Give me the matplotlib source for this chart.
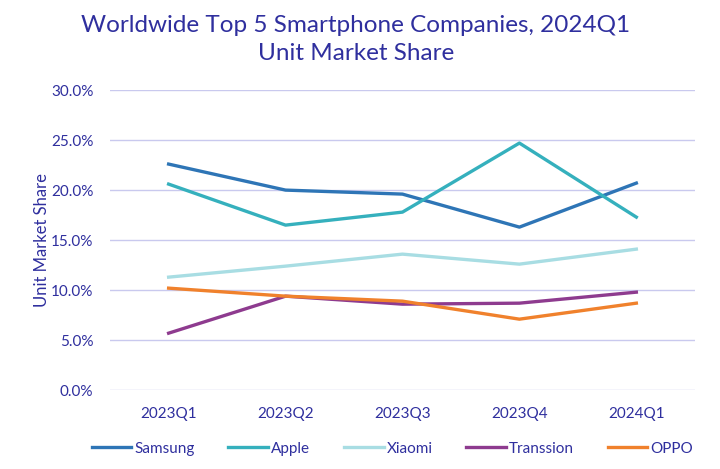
import matplotlib.pyplot as plt
import matplotlib.ticker as mticker

quarters = ['2023Q1', '2023Q2', '2023Q3', '2023Q4', '2024Q1']

samsung = [22.6, 20.0, 19.6, 16.3, 20.7]
apple = [20.6, 16.5, 17.8, 24.7, 17.3]
xiaomi = [11.3, 12.4, 13.6, 12.6, 14.1]
transsion = [5.7, 9.4, 8.6, 8.7, 9.8]
oppo = [10.2, 9.4, 8.9, 7.1, 8.7]

series = [
    ('Samsung', samsung, '#2E75B6'),
    ('Apple', apple, '#35B0BD'),
    ('Xiaomi', xiaomi, '#A8DDE3'),
    ('Transsion', transsion, '#8E3B8F'),
    ('OPPO', oppo, '#F0812C'),
]

text_col = '#2F2F9E'
plt.rcParams['font.family'] = ['Lato', 'DejaVu Sans']

fig = plt.figure(figsize=(7.2, 4.69), dpi=100)
ax = fig.add_axes([0.153, 0.168, 0.812, 0.64])

x = range(len(quarters))
for name, vals, col in series:
    ax.plot(x, vals, color=col, linewidth=2.4, label=name)

ax.set_xlim(-0.5, len(quarters) - 0.5)
ax.set_ylim(0, 30)
ax.set_yticks([0, 5, 10, 15, 20, 25, 30])
ax.yaxis.set_major_formatter(mticker.FuncFormatter(lambda v, p: f'{v:.1f}%'))
ax.set_xticks(list(x))
ax.set_xticklabels(quarters)
ax.grid(axis='y', color='#C9C9EE', linewidth=1)
ax.set_axisbelow(True)
for s in ax.spines.values():
    s.set_visible(False)
ax.tick_params(length=0, labelsize=11, colors=text_col, pad=12)
ax.tick_params(axis='x', pad=12)

ax.set_ylabel('Unit Market Share', color=text_col, fontsize=12, labelpad=1)

fig.text(0.494, 0.945, 'Worldwide Top 5 Smartphone Companies, 2024Q1', ha='center', va='center',
         color=text_col, fontsize=17.5)
fig.text(0.494, 0.886, 'Unit Market Share', ha='center', va='center',
         color=text_col, fontsize=17.5)

leg = fig.legend(loc='center', bbox_to_anchor=(0.545, 0.043), ncol=5, frameon=False,
                 handlelength=2.6, handletextpad=0.2, columnspacing=2.2, fontsize=11)
for t in leg.get_texts():
    t.set_color(text_col)

fig.savefig('out.png', dpi=100)
